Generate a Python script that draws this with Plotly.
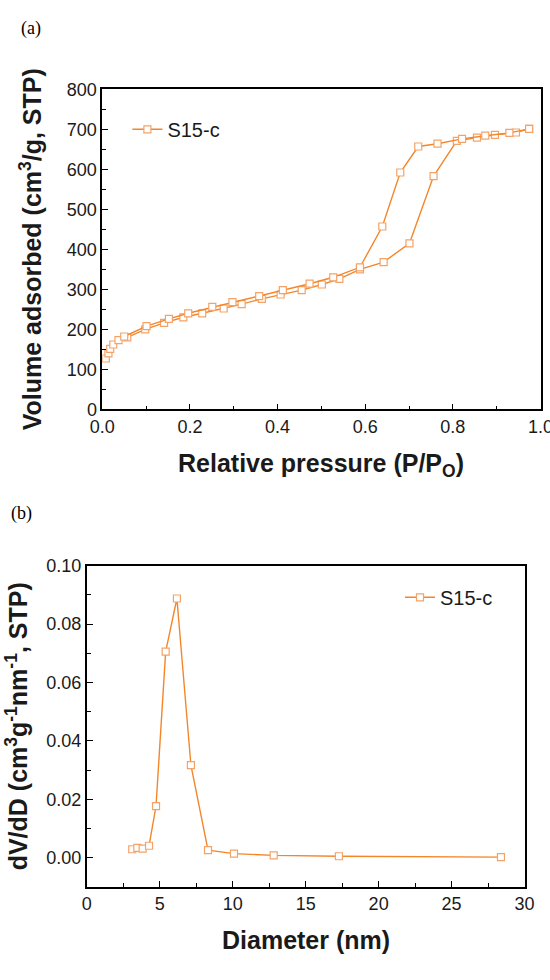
import plotly.graph_objects as go

# ---------------- data ----------------
# (a) N2 isotherm of S15-c
ads_p = [0.008, 0.014, 0.018, 0.025, 0.037, 0.057, 0.098, 0.141, 0.185, 0.228, 0.277, 0.318,
         0.364, 0.407, 0.455, 0.501, 0.541, 0.588, 0.642, 0.701, 0.756, 0.809, 0.855, 0.896,
         0.944, 0.974]
ads_v = [127, 140, 151, 162, 173, 180, 200, 216, 230, 240, 252, 263,
         276, 287, 298, 312, 326, 350, 368, 415, 583, 671, 679, 686,
         692, 701]
des_p = [0.974, 0.929, 0.874, 0.821, 0.765, 0.721, 0.680, 0.639, 0.588, 0.527, 0.473, 0.412,
         0.358, 0.297, 0.251, 0.196, 0.152, 0.101, 0.050]
des_v = [701, 691, 684, 676, 664, 657, 592, 457, 355, 330, 314, 298,
         283, 268, 256, 240, 226, 208, 182]

# (b) pore size distribution
diam = [3.12, 3.47, 3.83, 4.27, 4.75, 5.41, 6.18, 7.14, 8.31, 10.09, 12.81, 17.28, 28.38]
dvdd = [0.0029, 0.0034, 0.0031, 0.0041, 0.0177, 0.0706, 0.0888, 0.0317, 0.0026, 0.0014,
        0.0008, 0.0005, 0.0002]

series_name = "S15-c"
x1_ticks = [0.0, 0.2, 0.4, 0.6, 0.8, 1.0]
x1_ticklabels = ["0.0", "0.2", "0.4", "0.6", "0.8", "1.0"]
y1_ticks = [0, 100, 200, 300, 400, 500, 600, 700, 800]
x2_ticks = [0, 5, 10, 15, 20, 25, 30]
y2_ticks = [0.00, 0.02, 0.04, 0.06, 0.08, 0.10]

# ---------------- style ----------------
W, H = 550, 980
LINE_C = "#F4862A"
MARK_C = "#F3A368"
FONT = "Liberation Sans, Arial, sans-serif"
TXT = "#1a1a1a"


def px_x(px):
    return px / W


def px_y(py):
    return 1 - py / H


marker = dict(symbol="square", size=7, color="white", line=dict(color=MARK_C, width=1.2))
line = dict(color=LINE_C, width=1.4)

fig = go.Figure()
fig.add_trace(go.Scatter(x=ads_p, y=ads_v, mode="lines+markers", name=series_name,
                         line=line, marker=marker, xaxis="x", yaxis="y",
                         legend="legend", legendgroup="a", showlegend=True))
fig.add_trace(go.Scatter(x=des_p, y=des_v, mode="lines+markers", name=series_name,
                         line=line, marker=marker, xaxis="x", yaxis="y",
                         legendgroup="a", showlegend=False))
fig.add_trace(go.Scatter(x=diam, y=dvdd, mode="lines+markers", name=series_name,
                         line=line, marker=marker, xaxis="x2", yaxis="y2",
                         legend="legend2", showlegend=True))

axis_common = dict(showline=True, linecolor="black", linewidth=1.6, mirror=True,
                   ticks="inside", ticklen=6, tickwidth=1.4, tickcolor="black",
                   showgrid=False, zeroline=False, automargin=False,
                   ticklabeloverflow="allow",
                   tickfont=dict(family=FONT, size=18, color=TXT))

# pixel geometry of plot boxes
A_L, A_R, A_T, A_B = 102.3, 540.5, 89.3, 409.3
B_L, B_R, B_T, B_B = 86.7, 524.6, 565.8, 886.9

fig.update_layout(
    width=W, height=H,
    margin=dict(l=0, r=0, t=0, b=0, autoexpand=False),
    paper_bgcolor="white", plot_bgcolor="white",
    xaxis=dict(domain=[px_x(A_L), px_x(A_R)], range=[0, 1.0], anchor="y",
               tickvals=x1_ticks, ticktext=x1_ticklabels,
               minor=dict(dtick=0.1, ticks="inside", ticklen=4, tickwidth=1.2, tickcolor="black"),
               **axis_common),
    yaxis=dict(domain=[px_y(A_B), px_y(A_T)], range=[0, 800], anchor="x",
               tickvals=y1_ticks,
               minor=dict(dtick=50, ticks="inside", ticklen=4, tickwidth=1.2, tickcolor="black"),
               **axis_common),
    xaxis2=dict(domain=[px_x(B_L), px_x(B_R)], range=[0, 30], anchor="y2",
                tickvals=x2_ticks,
                minor=dict(dtick=2.5, ticks="inside", ticklen=4, tickwidth=1.2, tickcolor="black"),
                **axis_common),
    yaxis2=dict(domain=[px_y(B_B), px_y(B_T)], range=[-0.01, 0.10], anchor="x2",
                tickvals=y2_ticks, tickformat=".2f",
                minor=dict(dtick=0.01, ticks="inside", ticklen=4, tickwidth=1.2, tickcolor="black"),
                **axis_common),
    legend=dict(x=px_x(127.4), y=px_y(129.3), xanchor="left", yanchor="middle",
                bgcolor="rgba(0,0,0,0)", borderwidth=0,
                font=dict(family=FONT, size=20, color=TXT)),
    legend2=dict(x=px_x(400), y=px_y(597.3), xanchor="left", yanchor="middle",
                 bgcolor="rgba(0,0,0,0)", borderwidth=0,
                 font=dict(family=FONT, size=20, color=TXT)),
)

title_font = dict(family=FONT, size=25, color=TXT)
annots = [
    dict(text="<b>Relative pressure (P/P<sub>O</sub>)</b>", x=px_x((A_L + A_R) / 2), y=px_y(465),
         textangle=0),
    dict(text="<b>Volume adsorbed (cm<sup>3</sup>/g, STP)</b>", x=px_x(31), y=px_y((A_T + A_B) / 2),
         textangle=-90),
    dict(text="<b>Diameter (nm)</b>", x=px_x((B_L + B_R) / 2), y=px_y(940), textangle=0),
    dict(text="<b>dV/dD (cm<sup>3</sup>g<sup>-1</sup>nm<sup>-1</sup>, STP)</b>", x=px_x(17),
         y=px_y((B_T + B_B) / 2), textangle=-90),
]
for a in annots:
    fig.add_annotation(xref="paper", yref="paper", xanchor="center", yanchor="middle",
                       showarrow=False, font=title_font, **a)

for lbl, x, y in [("(a)", 31, 28), ("(b)", 21.5, 513)]:
    fig.add_annotation(text=lbl, xref="paper", yref="paper", x=px_x(x), y=px_y(y),
                       xanchor="center", yanchor="middle", showarrow=False,
                       font=dict(family="Liberation Serif, Times New Roman, serif", size=18,
                                 color="black"))

fig.write_html("out.html")
